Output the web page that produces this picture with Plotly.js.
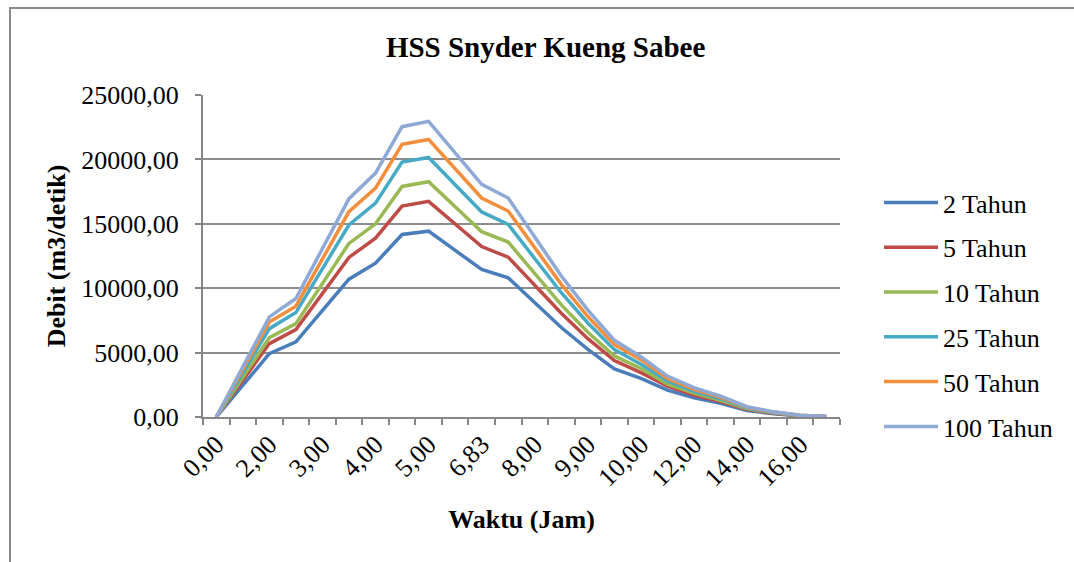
<!DOCTYPE html>
<html>
<head>
<meta charset="utf-8">
<script src="https://cdn.plot.ly/plotly-3.0.1.min.js"></script>
<style>
  html, body { margin:0; padding:0; background:#fff; overflow:hidden; }
  #chart { width:1074px; height:562px; }
  #frame { position:absolute; left:9px; top:7px; width:1100px; height:600px; border:2px solid #8a8a8a; pointer-events:none; box-sizing:border-box; }
</style>
</head>
<body>
<div id="chart"></div>
<div id="frame"></div>
<script>
// Time categories (Jam); only every other label is printed on the axis
const waktu = ["0,00","1,00","2,00","2,50","3,00","3,50","4,00","4,50","5,00","6,00","6,83","7,50",
               "8,00","8,50","9,00","9,50","10,00","11,00","12,00","13,00","14,00","15,00","16,00","17,00"];
const shownLabels = ["0,00","2,00","3,00","4,00","5,00","6,83","8,00","9,00","10,00","12,00","14,00","16,00"];

const q2   = [0, 2460, 4920, 5830, 8290, 10700, 11940, 14170, 14430, 12940, 11450, 10800, 8850, 6950, 5250, 3730, 3000, 2090, 1500, 1070, 500, 250, 90, 20];
const q5   = [0, 2850, 5700, 6790, 9610, 12390, 13890, 16370, 16740, 15000, 13230, 12410, 10250, 8050, 6080, 4380, 3440, 2400, 1700, 1200, 580, 290, 100, 25];
const q10  = [0, 3080, 6160, 7250, 10390, 13480, 15000, 17900, 18270, 16320, 14390, 13580, 11100, 8700, 6580, 4740, 3770, 2560, 1850, 1300, 630, 320, 110, 25];
const q25  = [0, 3420, 6860, 8110, 11580, 14920, 16600, 19790, 20150, 18040, 15920, 14950, 12300, 9650, 7300, 5230, 4100, 2800, 2000, 1420, 700, 350, 120, 30];
const q50  = [0, 3650, 7380, 8600, 12300, 15940, 17770, 21170, 21550, 19280, 17000, 15990, 13150, 10300, 7800, 5620, 4450, 3000, 2150, 1530, 750, 380, 130, 30];
const q100 = [0, 3880, 7770, 9200, 13130, 16950, 18940, 22540, 22950, 20510, 18060, 17000, 14000, 10950, 8300, 5950, 4680, 3180, 2280, 1620, 800, 400, 140, 35];

const seriesNames = ["2 Tahun","5 Tahun","10 Tahun","25 Tahun","50 Tahun","100 Tahun"];
const seriesData = [q2, q5, q10, q25, q50, q100];
const colors = ["#4A7EBB","#BE4B48","#98B954","#46AAC5","#F28E3C","#8EA9D6"];

const FONT = "'Liberation Serif', 'Times New Roman', Times, serif";

const traces = seriesData.map((ys, i) => ({
  type: "scatter",
  mode: "lines",
  name: seriesNames[i],
  legendgroup: "g" + i,
  x: waktu,
  y: ys,
  line: { color: colors[i], width: 3.5 },
  hoverinfo: "skip"
}));

const tickText = waktu.map(w => shownLabels.includes(w) ? w : "");

const layout = {
  width: 1074,
  height: 562,
  paper_bgcolor: "#ffffff",
  plot_bgcolor: "#ffffff",
  separators: ",.",
  margin: { l: 203, r: 234, t: 95, b: 145 },
  font: { family: FONT, size: 26, color: "#000" },
  title: {
    text: "<b>HSS Snyder Kueng Sabee</b>",
    font: { family: FONT, size: 29, color: "#000" },
    xref: "container", x: 0.508, xanchor: "center",
    yref: "container", y: 1 - 47/562, yanchor: "middle"
  },
  xaxis: {
    type: "category",
    categoryorder: "array",
    categoryarray: waktu,
    range: [-0.5, waktu.length - 0.5],
    tickmode: "array",
    tickvals: waktu,
    ticktext: tickText,
    tickson: "boundaries",
    ticks: "outside",
    ticklen: 6,
    tickwidth: 2,
    tickcolor: "#868686",
    tickangle: -45,
    showgrid: false,
    showline: true,
    linecolor: "#868686",
    linewidth: 2,
    zeroline: false,
    tickfont: { family: FONT, size: 26, color: "#000" },
    title: { text: "<b>Waktu (Jam)</b>", font: { family: FONT, size: 26, color: "#000" }, standoff: 19 }
  },
  yaxis: {
    range: [0, 25000],
    tickmode: "linear",
    tick0: 0,
    dtick: 5000,
    tickformat: ".2f",
    ticks: "outside",
    ticklen: 6,
    tickwidth: 2,
    tickcolor: "#868686",
    ticklabelstandoff: 11,
    showgrid: true,
    gridcolor: "#8c8c8c",
    gridwidth: 2,
    showline: true,
    linecolor: "#868686",
    linewidth: 2,
    zeroline: false,
    tickfont: { family: FONT, size: 26, color: "#000" },
    title: { text: "<b>Debit (m3/detik)</b>", font: { family: FONT, size: 26, color: "#000" }, standoff: 8 }
  },
  showlegend: true,
  legend: {
    x: (879 - 203) / 637,
    xanchor: "left",
    y: (417 - 179) / 322,
    yanchor: "top",
    bgcolor: "rgba(0,0,0,0)",
    borderwidth: 0,
    itemwidth: 54,
    tracegroupgap: 8,
    font: { family: FONT, size: 26, color: "#000" }
  }
};

Plotly.newPlot("chart", traces, layout, { staticPlot: true, displayModeBar: false });
</script>
</body>
</html>
